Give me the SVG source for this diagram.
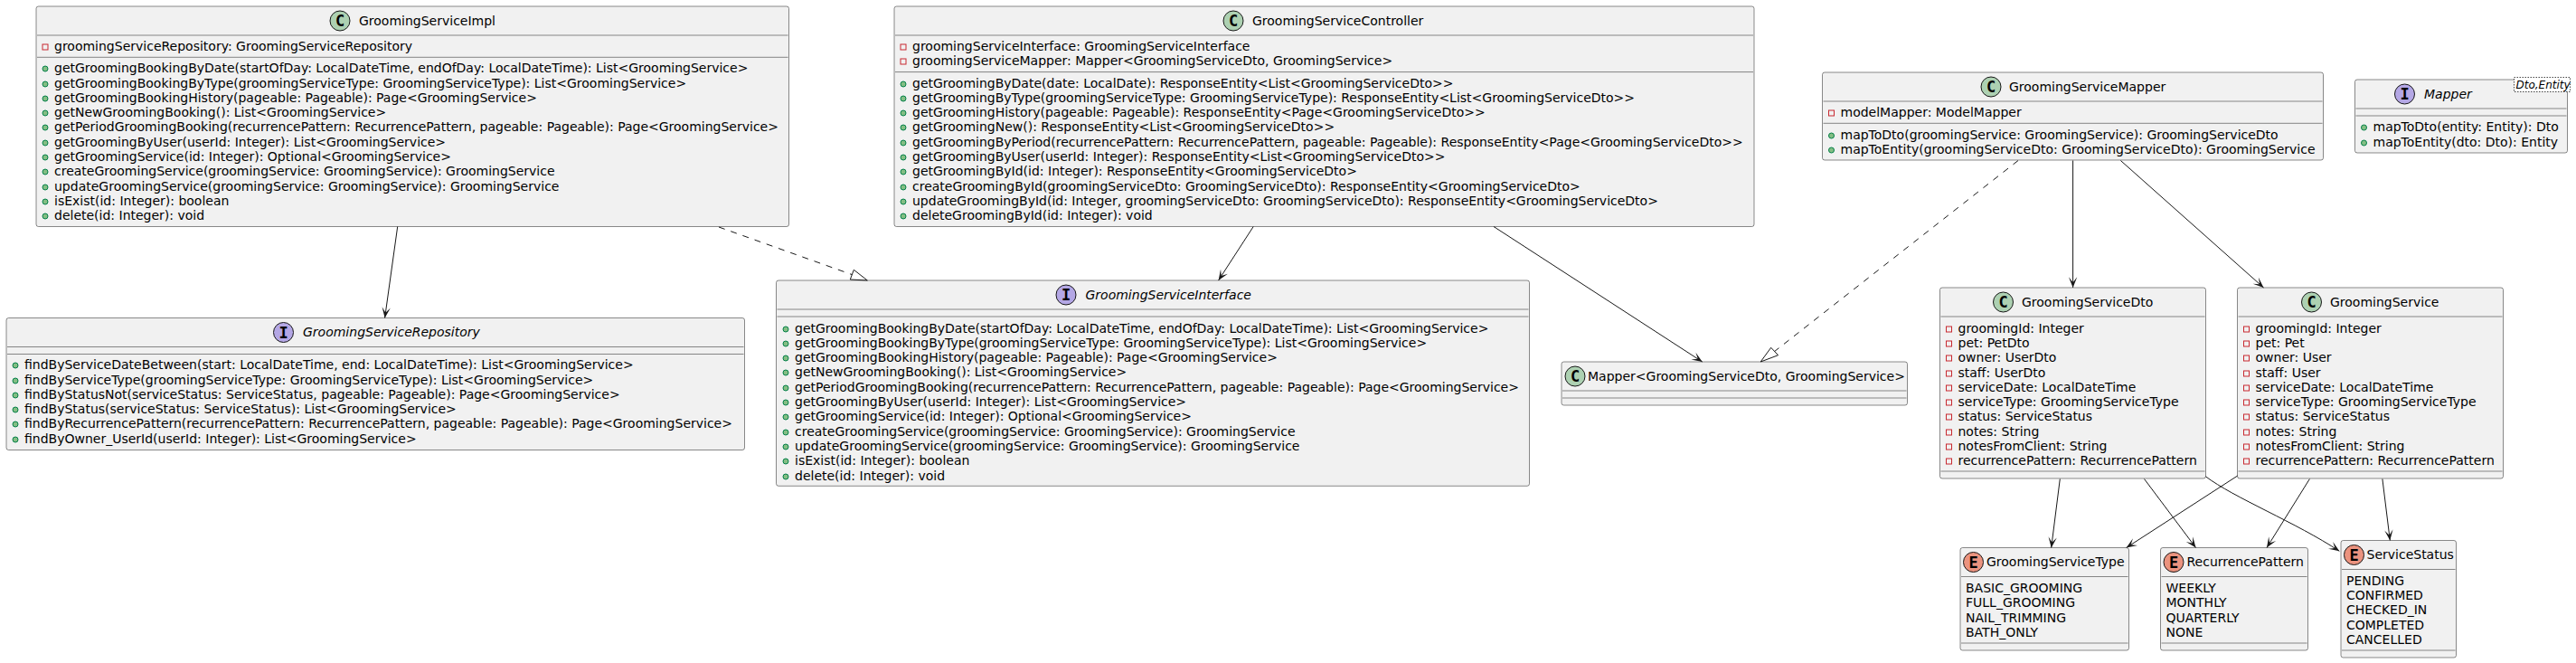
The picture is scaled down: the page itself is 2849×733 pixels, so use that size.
<svg xmlns="http://www.w3.org/2000/svg" width="2849" height="733" viewBox="0 0 2849 733">
<style>
text{font-family:"DejaVu Sans",sans-serif;font-size:14px;fill:#000}
.box{fill:#F1F1F1;stroke:#181818;stroke-width:.5}
.sep{stroke:#181818;stroke-width:.5}
.ic{stroke:#181818;stroke-width:1}
.c{fill:#ADD1B2}.i{fill:#B4A7E5}.e{fill:#EB937F}
.g{font-family:"DejaVu Sans Mono",monospace;font-weight:bold;font-size:17px;text-anchor:middle}
.it{font-style:italic}
.pub{fill:#84BE84;stroke:#038048;stroke-width:1}
.pri{fill:none;stroke:#C82930;stroke-width:1}
.gen{fill:#fff;stroke:#181818;stroke-width:.8;stroke-dasharray:1.5,1.5}
.ln{fill:none;stroke:#181818;stroke-width:1}
.dep{marker-end:url(#open)}
.real{stroke-dasharray:7,7}
.tri{fill:none;stroke:#181818;stroke-width:1}
</style>
<defs>
<marker id="open" markerUnits="userSpaceOnUse" markerWidth="14" markerHeight="12" refX="11" refY="5" orient="auto" viewBox="0 0 12 10"><path d="M11,5 L1,1 L6,5 L1,9 Z" fill="#181818"/></marker>
</defs>

<g id="GroomingServiceImpl">
<rect class="box" x="40" y="7" width="832.5" height="243.5" rx="2.5"/>
<ellipse class="ic c" cx="376" cy="23" rx="11" ry="11"/><text class="g" x="376" y="29">C</text>
<text x="397" y="28">GroomingServiceImpl</text>
<line class="sep" x1="41" x2="871.5" y1="39" y2="39"/>
<rect class="pri" x="47" y="49" width="6" height="6"/><text x="60" y="56">groomingServiceRepository: GroomingServiceRepository</text>
<line class="sep" x1="41" x2="871.5" y1="63.3" y2="63.3"/>
<circle class="pub" cx="50" cy="76" r="3"/><text x="60" y="80">getGroomingBookingByDate(startOfDay: LocalDateTime, endOfDay: LocalDateTime): List&lt;GroomingService&gt;</text>
<circle class="pub" cx="50" cy="93" r="3"/><text x="60" y="97">getGroomingBookingByType(groomingServiceType: GroomingServiceType): List&lt;GroomingService&gt;</text>
<circle class="pub" cx="50" cy="109" r="3"/><text x="60" y="113">getGroomingBookingHistory(pageable: Pageable): Page&lt;GroomingService&gt;</text>
<circle class="pub" cx="50" cy="125" r="3"/><text x="60" y="129">getNewGroomingBooking(): List&lt;GroomingService&gt;</text>
<circle class="pub" cx="50" cy="141" r="3"/><text x="60" y="145">getPeriodGroomingBooking(recurrencePattern: RecurrencePattern, pageable: Pageable): Page&lt;GroomingService&gt;</text>
<circle class="pub" cx="50" cy="158" r="3"/><text x="60" y="162">getGroomingByUser(userId: Integer): List&lt;GroomingService&gt;</text>
<circle class="pub" cx="50" cy="174" r="3"/><text x="60" y="178">getGroomingService(id: Integer): Optional&lt;GroomingService&gt;</text>
<circle class="pub" cx="50" cy="190" r="3"/><text x="60" y="194">createGroomingService(groomingService: GroomingService): GroomingService</text>
<circle class="pub" cx="50" cy="207" r="3"/><text x="60" y="211">updateGroomingService(groomingService: GroomingService): GroomingService</text>
<circle class="pub" cx="50" cy="223" r="3"/><text x="60" y="227">isExist(id: Integer): boolean</text>
<circle class="pub" cx="50" cy="239" r="3"/><text x="60" y="243">delete(id: Integer): void</text>
</g>

<g id="GroomingServiceController">
<rect class="box" x="989" y="7" width="951" height="243.5" rx="2.5"/>
<ellipse class="ic c" cx="1364" cy="23" rx="11" ry="11"/><text class="g" x="1364" y="29">C</text>
<text x="1385" y="28">GroomingServiceController</text>
<line class="sep" x1="990" x2="1939" y1="39" y2="39"/>
<rect class="pri" x="996" y="49" width="6" height="6"/><text x="1009" y="56">groomingServiceInterface: GroomingServiceInterface</text>
<rect class="pri" x="996" y="65" width="6" height="6"/><text x="1009" y="72">groomingServiceMapper: Mapper&lt;GroomingServiceDto, GroomingService&gt;</text>
<line class="sep" x1="990" x2="1939" y1="79.6" y2="79.6"/>
<circle class="pub" cx="999" cy="93" r="3"/><text x="1009" y="97">getGroomingByDate(date: LocalDate): ResponseEntity&lt;List&lt;GroomingServiceDto&gt;&gt;</text>
<circle class="pub" cx="999" cy="109" r="3"/><text x="1009" y="113">getGroomingByType(groomingServiceType: GroomingServiceType): ResponseEntity&lt;List&lt;GroomingServiceDto&gt;&gt;</text>
<circle class="pub" cx="999" cy="125" r="3"/><text x="1009" y="129">getGroomingHistory(pageable: Pageable): ResponseEntity&lt;Page&lt;GroomingServiceDto&gt;&gt;</text>
<circle class="pub" cx="999" cy="141" r="3"/><text x="1009" y="145">getGroomingNew(): ResponseEntity&lt;List&lt;GroomingServiceDto&gt;&gt;</text>
<circle class="pub" cx="999" cy="158" r="3"/><text x="1009" y="162">getGroomingByPeriod(recurrencePattern: RecurrencePattern, pageable: Pageable): ResponseEntity&lt;Page&lt;GroomingServiceDto&gt;&gt;</text>
<circle class="pub" cx="999" cy="174" r="3"/><text x="1009" y="178">getGroomingByUser(userId: Integer): ResponseEntity&lt;List&lt;GroomingServiceDto&gt;&gt;</text>
<circle class="pub" cx="999" cy="190" r="3"/><text x="1009" y="194">getGroomingById(id: Integer): ResponseEntity&lt;GroomingServiceDto&gt;</text>
<circle class="pub" cx="999" cy="207" r="3"/><text x="1009" y="211">createGroomingById(groomingServiceDto: GroomingServiceDto): ResponseEntity&lt;GroomingServiceDto&gt;</text>
<circle class="pub" cx="999" cy="223" r="3"/><text x="1009" y="227">updateGroomingById(id: Integer, groomingServiceDto: GroomingServiceDto): ResponseEntity&lt;GroomingServiceDto&gt;</text>
<circle class="pub" cx="999" cy="239" r="3"/><text x="1009" y="243">deleteGroomingById(id: Integer): void</text>
</g>

<g id="GroomingServiceMapper">
<rect class="box" x="2015.5" y="80" width="554" height="97" rx="2.5"/>
<ellipse class="ic c" cx="2202" cy="96" rx="11" ry="11"/><text class="g" x="2202" y="102">C</text>
<text x="2222" y="101">GroomingServiceMapper</text>
<line class="sep" x1="2016.5" x2="2568.5" y1="112" y2="112"/>
<rect class="pri" x="2022.5" y="122" width="6" height="6"/><text x="2035.5" y="129">modelMapper: ModelMapper</text>
<line class="sep" x1="2016.5" x2="2568.5" y1="136.3" y2="136.3"/>
<circle class="pub" cx="2025.5" cy="150" r="3"/><text x="2035.5" y="154">mapToDto(groomingService: GroomingService): GroomingServiceDto</text>
<circle class="pub" cx="2025.5" cy="166" r="3"/><text x="2035.5" y="170">mapToEntity(groomingServiceDto: GroomingServiceDto): GroomingService</text>
</g>

<g id="Mapper">
<rect class="box" x="2604.5" y="88" width="235" height="81" rx="2.5"/>
<ellipse class="ic i" cx="2659.5" cy="104" rx="11" ry="11"/><text class="g" x="2659.5" y="110">I</text>
<text class="it" x="2681" y="109">Mapper</text>
<line class="sep" x1="2605.5" x2="2838.5" y1="120" y2="120"/>
<line class="sep" x1="2605.5" x2="2838.5" y1="128" y2="128"/>
<circle class="pub" cx="2614.5" cy="141" r="3"/><text x="2624.5" y="145">mapToDto(entity: Entity): Dto</text>
<circle class="pub" cx="2614.5" cy="158" r="3"/><text x="2624.5" y="162">mapToEntity(dto: Dto): Entity</text>
<rect class="gen" x="2780.5" y="85.5" width="62" height="16"/>
<text class="it" style="font-size:12px" x="2782.5" y="98">Dto,Entity</text>
</g>

<g id="GroomingServiceRepository">
<rect class="box" x="7" y="351.5" width="816.5" height="146" rx="2.5"/>
<ellipse class="ic i" cx="313.5" cy="367.5" rx="11" ry="11"/><text class="g" x="313.5" y="373.5">I</text>
<text class="it" x="335" y="372">GroomingServiceRepository</text>
<line class="sep" x1="8" x2="822.5" y1="383.5" y2="383.5"/>
<line class="sep" x1="8" x2="822.5" y1="391.5" y2="391.5"/>
<circle class="pub" cx="17" cy="404" r="3"/><text x="27" y="408">findByServiceDateBetween(start: LocalDateTime, end: LocalDateTime): List&lt;GroomingService&gt;</text>
<circle class="pub" cx="17" cy="421" r="3"/><text x="27" y="425">findByServiceType(groomingServiceType: GroomingServiceType): List&lt;GroomingService&gt;</text>
<circle class="pub" cx="17" cy="437" r="3"/><text x="27" y="441">findByStatusNot(serviceStatus: ServiceStatus, pageable: Pageable): Page&lt;GroomingService&gt;</text>
<circle class="pub" cx="17" cy="453" r="3"/><text x="27" y="457">findByStatus(serviceStatus: ServiceStatus): List&lt;GroomingService&gt;</text>
<circle class="pub" cx="17" cy="469" r="3"/><text x="27" y="473">findByRecurrencePattern(recurrencePattern: RecurrencePattern, pageable: Pageable): Page&lt;GroomingService&gt;</text>
<circle class="pub" cx="17" cy="486" r="3"/><text x="27" y="490">findByOwner_UserId(userId: Integer): List&lt;GroomingService&gt;</text>
</g>

<g id="GroomingServiceInterface">
<rect class="box" x="858.5" y="310" width="833" height="227.3" rx="2.5"/>
<ellipse class="ic i" cx="1179" cy="326" rx="11" ry="11"/><text class="g" x="1179" y="332">I</text>
<text class="it" x="1200.5" y="331">GroomingServiceInterface</text>
<line class="sep" x1="859.5" x2="1690.5" y1="342" y2="342"/>
<line class="sep" x1="859.5" x2="1690.5" y1="350" y2="350"/>
<circle class="pub" cx="869" cy="364" r="3"/><text x="879" y="368">getGroomingBookingByDate(startOfDay: LocalDateTime, endOfDay: LocalDateTime): List&lt;GroomingService&gt;</text>
<circle class="pub" cx="869" cy="380" r="3"/><text x="879" y="384">getGroomingBookingByType(groomingServiceType: GroomingServiceType): List&lt;GroomingService&gt;</text>
<circle class="pub" cx="869" cy="396" r="3"/><text x="879" y="400">getGroomingBookingHistory(pageable: Pageable): Page&lt;GroomingService&gt;</text>
<circle class="pub" cx="869" cy="412" r="3"/><text x="879" y="416">getNewGroomingBooking(): List&lt;GroomingService&gt;</text>
<circle class="pub" cx="869" cy="429" r="3"/><text x="879" y="433">getPeriodGroomingBooking(recurrencePattern: RecurrencePattern, pageable: Pageable): Page&lt;GroomingService&gt;</text>
<circle class="pub" cx="869" cy="445" r="3"/><text x="879" y="449">getGroomingByUser(userId: Integer): List&lt;GroomingService&gt;</text>
<circle class="pub" cx="869" cy="461" r="3"/><text x="879" y="465">getGroomingService(id: Integer): Optional&lt;GroomingService&gt;</text>
<circle class="pub" cx="869" cy="478" r="3"/><text x="879" y="482">createGroomingService(groomingService: GroomingService): GroomingService</text>
<circle class="pub" cx="869" cy="494" r="3"/><text x="879" y="498">updateGroomingService(groomingService: GroomingService): GroomingService</text>
<circle class="pub" cx="869" cy="510" r="3"/><text x="879" y="514">isExist(id: Integer): boolean</text>
<circle class="pub" cx="869" cy="527" r="3"/><text x="879" y="531">delete(id: Integer): void</text>
</g>

<g id="MapperGroomingServiceDtoGroomingService">
<rect class="box" x="1727" y="400" width="382.5" height="48" rx="2.5"/>
<ellipse class="ic c" cx="1742" cy="416" rx="11" ry="11"/><text class="g" x="1742" y="422">C</text>
<text x="1756" y="421">Mapper&lt;GroomingServiceDto, GroomingService&gt;</text>
<line class="sep" x1="1728" x2="2108.5" y1="432" y2="432"/>
<line class="sep" x1="1728" x2="2108.5" y1="440" y2="440"/>
</g>

<g id="GroomingServiceDto">
<rect class="box" x="2145.5" y="318" width="294" height="211" rx="2.5"/>
<ellipse class="ic c" cx="2215.5" cy="334" rx="11" ry="11"/><text class="g" x="2215.5" y="340">C</text>
<text x="2236" y="339">GroomingServiceDto</text>
<line class="sep" x1="2146.5" x2="2438.5" y1="350" y2="350"/>
<rect class="pri" x="2152.5" y="361" width="6" height="6"/><text x="2165.5" y="368">groomingId: Integer</text>
<rect class="pri" x="2152.5" y="377" width="6" height="6"/><text x="2165.5" y="384">pet: PetDto</text>
<rect class="pri" x="2152.5" y="393" width="6" height="6"/><text x="2165.5" y="400">owner: UserDto</text>
<rect class="pri" x="2152.5" y="410" width="6" height="6"/><text x="2165.5" y="417">staff: UserDto</text>
<rect class="pri" x="2152.5" y="426" width="6" height="6"/><text x="2165.5" y="433">serviceDate: LocalDateTime</text>
<rect class="pri" x="2152.5" y="442" width="6" height="6"/><text x="2165.5" y="449">serviceType: GroomingServiceType</text>
<rect class="pri" x="2152.5" y="458" width="6" height="6"/><text x="2165.5" y="465">status: ServiceStatus</text>
<rect class="pri" x="2152.5" y="475" width="6" height="6"/><text x="2165.5" y="482">notes: String</text>
<rect class="pri" x="2152.5" y="491" width="6" height="6"/><text x="2165.5" y="498">notesFromClient: String</text>
<rect class="pri" x="2152.5" y="507" width="6" height="6"/><text x="2165.5" y="514">recurrencePattern: RecurrencePattern</text>
<line class="sep" x1="2146.5" x2="2438.5" y1="521" y2="521"/>
</g>

<g id="GroomingService">
<rect class="box" x="2474.5" y="318" width="294" height="211" rx="2.5"/>
<ellipse class="ic c" cx="2556.5" cy="334" rx="11" ry="11"/><text class="g" x="2556.5" y="340">C</text>
<text x="2577" y="339">GroomingService</text>
<line class="sep" x1="2475.5" x2="2767.5" y1="350" y2="350"/>
<rect class="pri" x="2481.5" y="361" width="6" height="6"/><text x="2494.5" y="368">groomingId: Integer</text>
<rect class="pri" x="2481.5" y="377" width="6" height="6"/><text x="2494.5" y="384">pet: Pet</text>
<rect class="pri" x="2481.5" y="393" width="6" height="6"/><text x="2494.5" y="400">owner: User</text>
<rect class="pri" x="2481.5" y="410" width="6" height="6"/><text x="2494.5" y="417">staff: User</text>
<rect class="pri" x="2481.5" y="426" width="6" height="6"/><text x="2494.5" y="433">serviceDate: LocalDateTime</text>
<rect class="pri" x="2481.5" y="442" width="6" height="6"/><text x="2494.5" y="449">serviceType: GroomingServiceType</text>
<rect class="pri" x="2481.5" y="458" width="6" height="6"/><text x="2494.5" y="465">status: ServiceStatus</text>
<rect class="pri" x="2481.5" y="475" width="6" height="6"/><text x="2494.5" y="482">notes: String</text>
<rect class="pri" x="2481.5" y="491" width="6" height="6"/><text x="2494.5" y="498">notesFromClient: String</text>
<rect class="pri" x="2481.5" y="507" width="6" height="6"/><text x="2494.5" y="514">recurrencePattern: RecurrencePattern</text>
<line class="sep" x1="2475.5" x2="2767.5" y1="521" y2="521"/>
</g>

<g id="GroomingServiceType">
<rect class="box" x="2168" y="605.5" width="186.5" height="113.5" rx="2.5"/>
<ellipse class="ic e" cx="2182.5" cy="621.5" rx="11" ry="11"/><text class="g" x="2182.5" y="627.5">E</text>
<text x="2197" y="626">GroomingServiceType</text>
<line class="sep" x1="2169" x2="2353.5" y1="637.5" y2="637.5"/>
<text x="2174" y="655">BASIC_GROOMING</text>
<text x="2174" y="671">FULL_GROOMING</text>
<text x="2174" y="688">NAIL_TRIMMING</text>
<text x="2174" y="704">BATH_ONLY</text>
<line class="sep" x1="2169" x2="2353.5" y1="711" y2="711"/>
</g>

<g id="RecurrencePattern">
<rect class="box" x="2389.5" y="605.5" width="163" height="113.5" rx="2.5"/>
<ellipse class="ic e" cx="2404" cy="621.5" rx="11" ry="11"/><text class="g" x="2404" y="627.5">E</text>
<text x="2418.5" y="626">RecurrencePattern</text>
<line class="sep" x1="2390.5" x2="2551.5" y1="637.5" y2="637.5"/>
<text x="2395.5" y="655">WEEKLY</text>
<text x="2395.5" y="671">MONTHLY</text>
<text x="2395.5" y="688">QUARTERLY</text>
<text x="2395.5" y="704">NONE</text>
<line class="sep" x1="2390.5" x2="2551.5" y1="711" y2="711"/>
</g>

<g id="ServiceStatus">
<rect class="box" x="2589" y="597.5" width="127.5" height="129.5" rx="2.5"/>
<ellipse class="ic e" cx="2603.5" cy="613.5" rx="11" ry="11"/><text class="g" x="2603.5" y="619.5">E</text>
<text x="2617.5" y="618">ServiceStatus</text>
<line class="sep" x1="2590" x2="2715.5" y1="629.5" y2="629.5"/>
<text x="2595" y="647">PENDING</text>
<text x="2595" y="663">CONFIRMED</text>
<text x="2595" y="679">CHECKED_IN</text>
<text x="2595" y="696">COMPLETED</text>
<text x="2595" y="712">CANCELLED</text>
<line class="sep" x1="2590" x2="2715.5" y1="719" y2="719"/>
</g>

<g id="connectors">
<path class="ln dep" d="M439.7,250.5 L425.6,351.5"/>
<path class="ln real" d="M795,251 L942.3,303.6"/>
<polygon class="tri" points="959.3,310 940.3,309 944.3,298.3"/>
<path class="ln dep" d="M1386.2,250.5 L1347.6,310"/>
<path class="ln dep" d="M1652,250.5 L1882.7,400"/>
<path class="ln real" d="M2232,177.5 L1962.6,388.5"/>
<polygon class="tri" points="1947.2,400 1958.7,384.3 1966.6,392.7"/>
<path class="ln dep" d="M2292.6,177.5 L2292.6,318"/>
<path class="ln dep" d="M2345.4,177.5 L2503.5,318"/>
<path class="ln dep" d="M2278.3,529.5 L2268.7,605.5"/>
<path class="ln dep" d="M2371.5,529.5 L2428.5,605.5"/>
<path class="ln dep" d="M2439.3,526.7 C2470,550 2540,578 2587.3,609.3"/>
<path class="ln dep" d="M2474.7,526 L2351.7,605.5"/>
<path class="ln dep" d="M2554.4,529.5 L2507,605.5"/>
<path class="ln dep" d="M2634.9,529.5 L2643.3,597.5"/>
</g>
</svg>
